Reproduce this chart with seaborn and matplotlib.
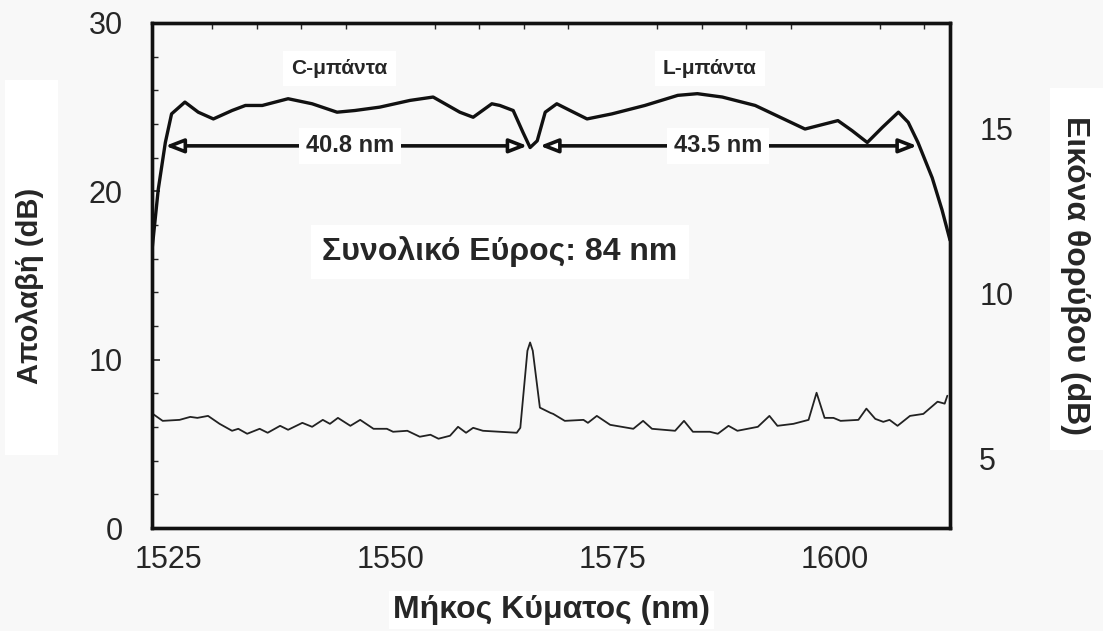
import matplotlib
matplotlib.use("Agg")
import matplotlib.pyplot as plt
import seaborn as sns
from matplotlib.ticker import MultipleLocator
from matplotlib.patches import Rectangle

# ---- data ----
gain_wl = [1523.2, 1523.9, 1524.7, 1525.4, 1526.9, 1528.4, 1530.1, 1532.2, 1533.7, 1535.6,
           1538.5, 1541.2, 1544.0, 1546.0, 1548.8, 1552.2, 1554.8, 1557.8, 1559.3, 1561.4,
           1562.3, 1563.8, 1564.9, 1565.7, 1566.5, 1567.4, 1568.7, 1570.2, 1572.1, 1574.9,
           1578.6, 1582.3, 1584.5, 1587.3, 1591.0, 1593.0, 1596.6, 1600.3, 1601.9, 1603.6,
           1605.3, 1607.1, 1608.2, 1609.3, 1610.9, 1612.0, 1612.9]
gain_db = [16.5, 20.1, 22.9, 24.6, 25.3, 24.7, 24.3, 24.8, 25.1, 25.1,
           25.5, 25.2, 24.7, 24.8, 25.0, 25.4, 25.6, 24.7, 24.4, 25.2,
           25.1, 24.8, 23.5, 22.6, 23.0, 24.7, 25.2, 24.8, 24.3, 24.6,
           25.1, 25.7, 25.8, 25.6, 25.1, 24.6, 23.7, 24.2, 23.6, 22.9,
           23.8, 24.7, 24.1, 22.9, 20.8, 18.9, 17.1]

nf_wl = [1523.3, 1524.4, 1526.3, 1527.5, 1528.3, 1529.5, 1530.8, 1532.2, 1532.9, 1533.9,
         1535.3, 1536.2, 1537.6, 1538.5, 1540.1, 1541.2, 1542.4, 1543.2, 1544.1, 1545.5,
         1546.6, 1548.1, 1549.6, 1550.3, 1551.9, 1553.3, 1554.5, 1555.4, 1556.7, 1557.6,
         1558.5, 1559.3, 1560.4, 1564.2, 1564.6, 1565.4, 1565.7, 1566.0, 1566.8, 1568.0,
         1568.3, 1569.6, 1571.7, 1572.2, 1573.2, 1574.7, 1577.3, 1578.4, 1579.4, 1582.0,
         1583.0, 1584.0, 1585.9, 1586.8, 1588.0, 1589.0, 1591.3, 1592.6, 1593.5, 1595.3,
         1597.0, 1597.9, 1598.8, 1599.8, 1600.6, 1602.6, 1603.5, 1604.5, 1605.4, 1606.1,
         1607.0, 1608.4, 1609.9, 1611.5, 1612.3, 1612.6]
nf_db = [6.36, 6.15, 6.18, 6.27, 6.24, 6.30, 6.06, 5.85, 5.91, 5.76,
         5.91, 5.79, 6.00, 5.88, 6.09, 5.97, 6.18, 6.06, 6.24, 6.00,
         6.18, 5.91, 5.91, 5.82, 5.85, 5.67, 5.73, 5.61, 5.70, 5.97,
         5.79, 5.94, 5.85, 5.79, 5.94, 8.27, 8.52, 8.27, 6.55, 6.39,
         6.36, 6.15, 6.18, 6.09, 6.30, 6.03, 5.91, 6.15, 5.91, 5.85,
         6.15, 5.82, 5.82, 5.76, 6.00, 5.85, 5.97, 6.30, 6.00, 6.06,
         6.18, 7.00, 6.24, 6.24, 6.15, 6.18, 6.52, 6.21, 6.12, 6.18,
         6.00, 6.30, 6.36, 6.73, 6.67, 6.91]

x_ticks = [1525, 1550, 1575, 1600]
gain_ticks = [0, 10, 20, 30]
nf_ticks = [5, 10, 15]

band_labels = ["C-μπάντα", "L-μπάντα"]
width_labels = ["40.8 nm", "43.5 nm"]
total_label = "Συνολικό Εύρος: 84 nm"

# ---- style ----
sns.set_theme(style="white")
plt.rcParams['font.family'] = ['Liberation Sans', 'DejaVu Sans']
bg = '#f8f8f8'

fig = plt.figure(figsize=(11.03, 6.31), dpi=100, facecolor=bg)

# white panels behind the side labels
fig.patches.append(Rectangle((0.0045, 0.279), 0.048, 0.594, transform=fig.transFigure,
                             facecolor='white', edgecolor='none', zorder=-5))
fig.patches.append(Rectangle((0.952, 0.287), 0.048, 0.574, transform=fig.transFigure,
                             facecolor='white', edgecolor='none', zorder=-5))

ax = fig.add_axes([0.1378, 0.1632, 0.7235, 0.8004])
ax.set_facecolor(bg)

sns.lineplot(x=gain_wl, y=gain_db, ax=ax, color='#111111', linewidth=2.4,
             sort=False, estimator=None)
ax.set_xlim(1523.2, 1612.9)
ax.set_ylim(0, 30)
ax.set_xticks(x_ticks)
ax.set_yticks(gain_ticks)
ax.yaxis.set_minor_locator(MultipleLocator(2))
ax.xaxis.set_minor_locator(MultipleLocator(5))
ax.tick_params(axis='y', which='major', direction='in', length=6, width=1.2,
               labelsize=22, pad=21, left=True)
ax.tick_params(axis='y', which='minor', direction='in', length=4, width=1, left=True)
ax.tick_params(axis='x', which='major', length=0, labelsize=22, pad=12)
ax.tick_params(axis='x', which='minor', direction='in', length=4, width=1,
               top=True, bottom=False)
for s in ax.spines.values():
    s.set_linewidth(2.4)
    s.set_color('#111111')

ax2 = ax.twinx()
sns.lineplot(x=nf_wl, y=nf_db, ax=ax2, color='#222222', linewidth=1.3,
             sort=False, estimator=None)
ax2.set_ylim(2.91, 18.18)
ax2.set_yticks(nf_ticks)
ax2.tick_params(axis='y', length=0, labelsize=22, pad=21)
for s in ax2.spines.values():
    s.set_linewidth(2.4)
    s.set_color('#111111')

ax.set_xlabel("Μήκος Κύματος (nm)", fontsize=23, fontweight='bold', va='center',
              bbox=dict(facecolor='white', edgecolor='none', pad=3))
ax.xaxis.set_label_coords(0.501, -0.163)
ax.set_ylabel("Απολαβή (dB)", fontsize=21, fontweight='bold', va='center')
ax.yaxis.set_label_coords(-0.153, 0.48)
ax2.set_ylabel("Εικόνα θορύβου (dB)", fontsize=23, fontweight='bold', rotation=-90,
               va='center')
ax2.yaxis.set_label_coords(1.157, 0.50)

# annotations
box = dict(facecolor='white', edgecolor='none', pad=6)
ax.text(1544.3, 27.3, band_labels[0], ha='center', va='center', fontsize=15,
        fontweight='bold', bbox=box)
ax.text(1585.9, 27.3, band_labels[1], ha='center', va='center', fontsize=15,
        fontweight='bold', bbox=box)

arrow_kw = dict(arrowstyle='<|-|>,head_length=0.9,head_width=0.35', lw=2.6,
                color='#111111', fc='white', shrinkA=0, shrinkB=0)
ax.annotate('', xy=(1524.7, 22.7), xytext=(1565.4, 22.7), arrowprops=arrow_kw)
ax.annotate('', xy=(1566.8, 22.7), xytext=(1609.2, 22.7), arrowprops=arrow_kw)
ax.text(1545.5, 22.7, width_labels[0], ha='center', va='center', fontsize=17,
        fontweight='bold', bbox=dict(facecolor='white', edgecolor='none', pad=5))
ax.text(1586.8, 22.7, width_labels[1], ha='center', va='center', fontsize=17,
        fontweight='bold', bbox=dict(facecolor='white', edgecolor='none', pad=5))
ax.text(1562.3, 16.4, total_label, ha='center', va='center', fontsize=23,
        fontweight='bold', bbox=dict(facecolor='white', edgecolor='none', pad=8))

fig.savefig("out.png", dpi=100, facecolor=bg)
